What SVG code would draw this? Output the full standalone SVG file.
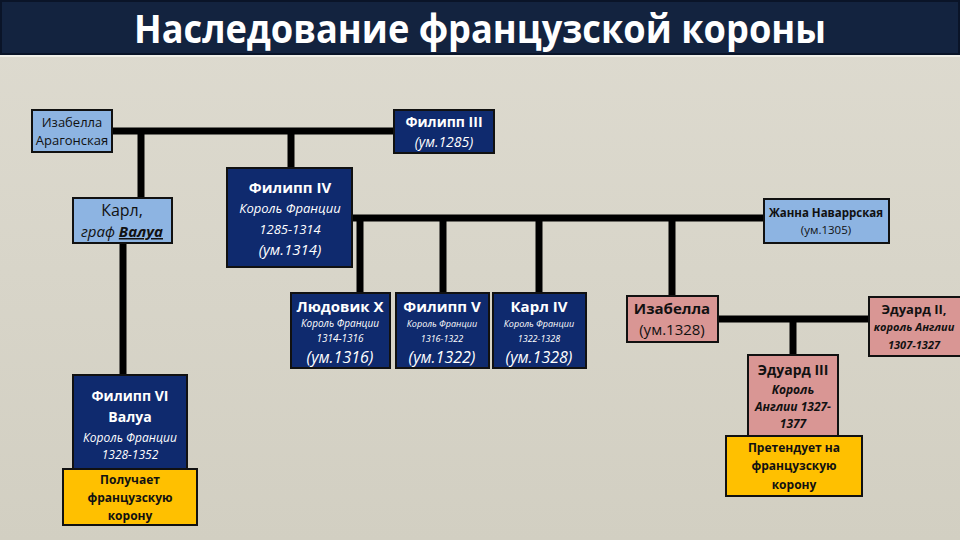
<svg xmlns="http://www.w3.org/2000/svg" width="960" height="540" viewBox="0 0 960 540">
<defs>
<linearGradient id="bg" x1="0" y1="0" x2="0" y2="1">
<stop offset="0" stop-color="#dedbd0"/>
<stop offset="1" stop-color="#d2cfc2"/>
</linearGradient>
<style>
.f{font-family:"Open Sans","Liberation Sans",sans-serif;text-anchor:middle}
.w{fill:#ffffff}
.d{fill:#111111}
.b{font-weight:bold}
.i{font-style:italic}
.navy{fill:#0f2a6e;stroke:#111;stroke-width:2}
.blue{fill:#8db4e2;stroke:#111;stroke-width:2}
.pink{fill:#d99694;stroke:#111;stroke-width:2}
.gold{fill:#ffc000;stroke:#111;stroke-width:2}
.ln{stroke:#000;stroke-width:7;fill:none}
</style>
</defs>
<rect width="960" height="540" fill="url(#bg)"/>
<g id="title">
<rect x="1" y="1" width="958" height="53" fill="#13233f" stroke="#0a1428" stroke-width="2"/>
<line x1="0" y1="56" x2="960" y2="56" stroke="#f0efe8" stroke-width="2"/>
<text class="f w b" x="480" y="43" font-size="40" textLength="692" lengthAdjust="spacingAndGlyphs">Наследование французской короны</text>
</g>
<g id="connectors">
<line class="ln" x1="112" y1="131" x2="394" y2="131"/>
<line class="ln" x1="141" y1="131" x2="141" y2="198"/>
<line class="ln" x1="291" y1="131" x2="291" y2="168"/>
<line class="ln" x1="352" y1="218" x2="764" y2="218"/>
<line class="ln" x1="360" y1="218" x2="360" y2="293"/>
<line class="ln" x1="443" y1="218" x2="443" y2="293"/>
<line class="ln" x1="539" y1="218" x2="539" y2="293"/>
<line class="ln" x1="672" y1="218" x2="672" y2="296"/>
<line class="ln" x1="123" y1="243" x2="123" y2="375"/>
<line class="ln" x1="718" y1="319" x2="869" y2="319"/>
<line class="ln" x1="793" y1="319" x2="793" y2="355"/>
</g>
<g id="isabella-aragon">
<rect class="blue" x="32" y="110" width="80" height="42"/>
<text class="f d" font-size="13" x="72" y="127">Изабелла</text>
<text class="f d" font-size="13" x="72" y="145">Арагонская</text>
</g>
<g id="philip3">
<rect class="navy" x="394" y="110" width="100" height="43"/>
<text class="f w b" font-size="14" x="444" y="127">Филипп III</text>
<text class="f w i" font-size="14" x="444" y="147">(ум.1285)</text>
</g>
<g id="charles-valois">
<rect class="blue" x="73" y="198" width="99" height="45"/>
<text class="f d" font-size="16" x="122" y="216">Карл,</text>
<text class="f d" font-size="15" x="122" y="237"><tspan class="i">граф </tspan><tspan class="b i" text-decoration="underline">Валуа</tspan></text>
</g>
<g id="philip4">
<rect class="navy" x="227" y="168" width="125" height="99"/>
<text class="f w b" font-size="15" x="290" y="193">Филипп IV</text>
<text class="f w i" font-size="13" x="290" y="213">Король Франции</text>
<text class="f w i" font-size="13" x="290" y="234">1285-1314</text>
<text class="f w i" font-size="15" x="290" y="255">(ум.1314)</text>
</g>
<g id="jeanne">
<rect class="blue" x="764" y="199" width="125" height="44"/>
<text class="f d b" font-size="11.5" x="826" y="217">Жанна Наваррская</text>
<text class="f d" font-size="11.5" x="826" y="234">(ум.1305)</text>
</g>
<g id="louis10">
<rect class="navy" x="291" y="293" width="99" height="75"/>
<text class="f w b" font-size="15" x="340" y="312">Людовик X</text>
<text class="f w i" font-size="10" x="340" y="327">Король Франции</text>
<text class="f w i" font-size="10" x="340" y="342">1314-1316</text>
<text class="f w i" font-size="16" x="340" y="363">(ум.1316)</text>
</g>
<g id="philip5">
<rect class="navy" x="396" y="293" width="93" height="75"/>
<text class="f w b" font-size="15" x="442" y="312">Филипп V</text>
<text class="f w i" font-size="9" x="442" y="327">Король Франции</text>
<text class="f w i" font-size="9" x="442" y="342">1316-1322</text>
<text class="f w i" font-size="16" x="442" y="363">(ум.1322)</text>
</g>
<g id="charles4">
<rect class="navy" x="493" y="293" width="93" height="75"/>
<text class="f w b" font-size="15" x="539" y="312">Карл IV</text>
<text class="f w i" font-size="9" x="539" y="327">Король Франции</text>
<text class="f w i" font-size="9" x="539" y="342">1322-1328</text>
<text class="f w i" font-size="16" x="539" y="363">(ум.1328)</text>
</g>
<g id="isabella-france">
<rect class="pink" x="627" y="296" width="91" height="46"/>
<text class="f d b" font-size="15" x="672" y="314">Изабелла</text>
<text class="f d" font-size="15" x="672" y="335">(ум.1328)</text>
</g>
<g id="edward2">
<rect class="pink" x="869" y="297" width="95" height="59"/>
<text class="f d b" font-size="13" x="914" y="314">Эдуард II,</text>
<text class="f d b i" font-size="11" x="914" y="331">король Англии</text>
<text class="f d b i" font-size="11" x="914" y="349">1307-1327</text>
</g>
<g id="edward3">
<rect class="pink" x="748" y="355" width="90" height="81"/>
<text class="f d b" font-size="14" x="793" y="375">Эдуард III</text>
<text class="f d b i" font-size="12" x="793" y="394">Король</text>
<text class="f d b i" font-size="12" x="793" y="411">Англии 1327-</text>
<text class="f d b i" font-size="12" x="793" y="428">1377</text>
</g>
<g id="claims">
<rect class="gold" x="726" y="436" width="136" height="60"/>
<text class="f d b" font-size="12" x="794" y="452">Претендует на</text>
<text class="f d b" font-size="12" x="794" y="470">французскую</text>
<text class="f d b" font-size="12" x="794" y="489">корону</text>
</g>
<g id="philip6">
<rect class="navy" x="73" y="375" width="114" height="95"/>
<text class="f w b" font-size="14" x="130" y="401">Филипп VI</text>
<text class="f w b" font-size="14" x="130" y="422">Валуа</text>
<text class="f w i" font-size="12" x="130" y="442">Король Франции</text>
<text class="f w i" font-size="12" x="130" y="459">1328-1352</text>
</g>
<g id="receives">
<rect class="gold" x="63" y="469" width="134" height="56"/>
<text class="f d b" font-size="12" x="130" y="484">Получает</text>
<text class="f d b" font-size="12" x="130" y="502">французскую</text>
<text class="f d b" font-size="12" x="130" y="520">корону</text>
</g>
</svg>
